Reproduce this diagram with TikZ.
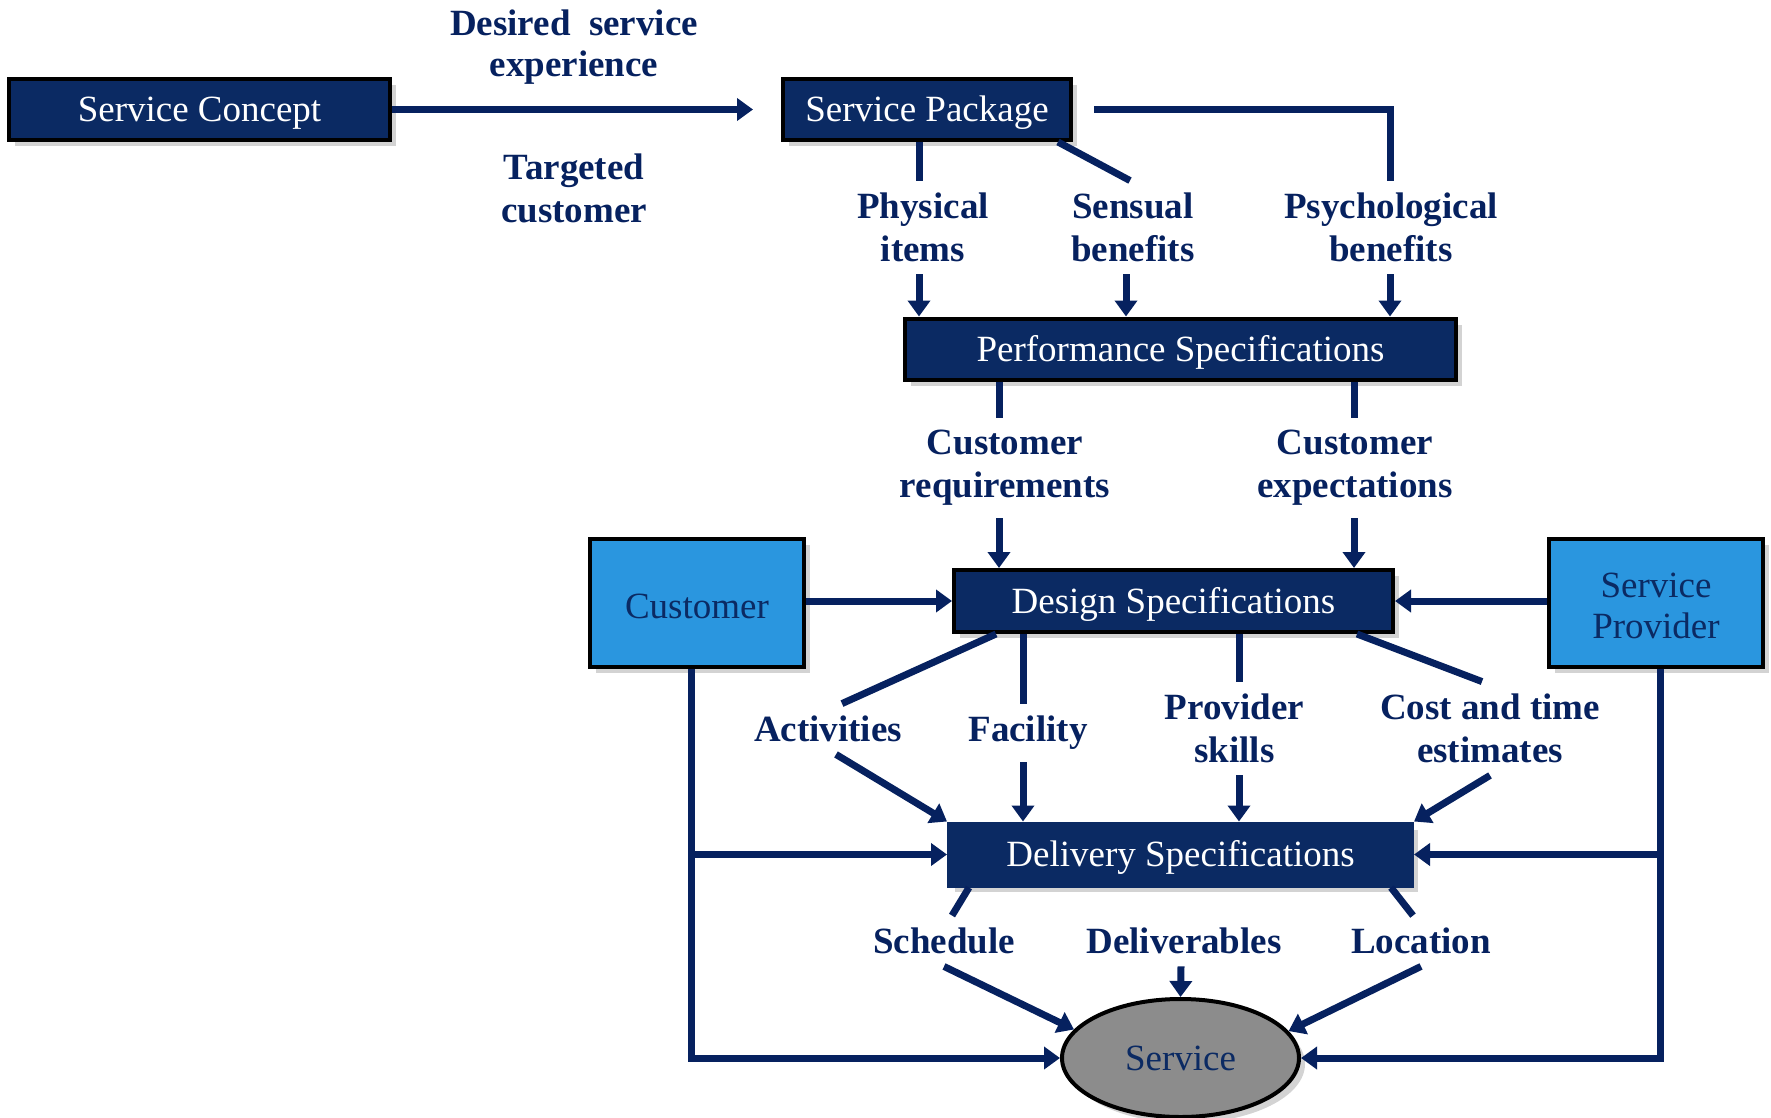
\documentclass[tikz,border=0pt]{standalone}
\usepackage{fontspec}
\setmainfont{Liberation Serif}
\usetikzlibrary{arrows.meta,shadows,shapes.geometric}
\definecolor{navy}{HTML}{0B2A63}
\definecolor{navyline}{HTML}{06215F}
\definecolor{lblue}{HTML}{2A96DF}
\definecolor{sgray}{HTML}{8C8C8C}
\begin{document}
\begin{tikzpicture}[x=0.5pt,y=-0.5pt,
  shad/.style={drop shadow={opacity=0.35, shadow xshift=3pt, shadow yshift=-3pt}},
  box/.style={shad, draw=black, line width=2pt, fill=navy, text=white, inner sep=0pt,
    text height=16pt, text depth=4pt,
    font=\fontsize{18.5}{21}\selectfont},
  sidebox/.style={shad, draw=black, line width=2pt, fill=lblue, text=navy, inner sep=0pt,
    minimum width=107pt, minimum height=64pt,
    font=\fontsize{18.5}{21}\selectfont},
  lbl/.style={text=navyline, font=\bfseries\fontsize{18.5}{21.5}\selectfont, align=center, inner sep=6pt},
  ln/.style={draw=navyline, line width=3.5pt},
  arr/.style={ln, -{Triangle[width=11pt,length=8pt]}}]
\useasboundingbox (0,0) rectangle (1771,1118);

% boxes
\node[box, minimum width=190.5pt, minimum height=30.5pt] (sc) at (199.5,109.5) {Service Concept};
\node[box, minimum width=144pt, minimum height=30.5pt] (sp) at (927,109.5) {Service Package};
\node[box, minimum width=275.5pt, minimum height=30.5pt] (perf) at (1180.5,349) {Performance Specifications};
\node[box, minimum width=219.5pt, minimum height=31pt] (ds) at (1173.5,601) {Design Specifications};
\node[box, draw=navy, minimum width=231.5pt, minimum height=31pt] (del) at (1180.5,854.5) {Delivery Specifications};
\node[sidebox, text height=15.6pt, text depth=0pt] (cust) at (697,603) {Customer};
\node[sidebox, align=center] (prov) at (1656,603) {\rule{0pt}{15pt}Service\\[-0.5pt]Provider};
\node[shad, ellipse, draw=black, line width=2pt, fill=sgray, text=navy, inner sep=0pt,
  minimum width=118.5pt, minimum height=59pt, font=\fontsize{18.5}{21}\selectfont] (svc) at (1180.5,1058) {Service};

% labels
\node[lbl] (des) at (574,47) {Desired\ \ service\\[-1pt]experience};
\node[lbl] (tgt) at (574,188) {Targeted\\customer};
\node[lbl] (phys) at (923,227.5) {Physical\\items};
\node[lbl] (sens) at (1133,227.5) {Sensual\\benefits};
\node[lbl] (psy) at (1391,227.5) {Psychological\\benefits};
\node[lbl] (creq) at (1005,468) {Customer\\requirements};
\node[lbl] (cexp) at (1355,468) {Customer\\expectations};
\node[lbl] (act) at (828,729) {Activities};
\node[lbl] (fac) at (1028,733) {Facility};
\node[lbl] (pskill) at (1234.5,728.5) {Provider\\skills};
\node[lbl] (cost) at (1490,728.5) {Cost and time\\estimates};
\node[lbl] (sched) at (944,941) {Schedule};
\node[lbl] (deliv) at (1184,941) {Deliverables};
\node[lbl] (loc) at (1421,941) {Location};

% top
\draw[arr, shorten >=14pt] (sc.east) -- (sp.west);
\draw[ln] ([xshift=-2pt]sp.south -| phys.north) -- ([xshift=-2pt]phys.north);
\draw[arr] ([xshift=-2pt]phys.south) -- ([xshift=-2pt]phys.south |- perf.north);
\draw[ln] ([xshift=-7.5pt]sp.south east) -- ([xshift=-1.5pt]sens.north);
\draw[arr] ([xshift=-3.5pt]sens.south) -- ([xshift=-3.5pt]sens.south |- perf.north);
\draw[ln] ([xshift=10.5pt]sp.east) -| ([xshift=-0.5pt]psy.north);
\draw[arr] ([xshift=-0.5pt]psy.south) -- ([xshift=-0.5pt]psy.south |- perf.north);

% performance -> design
\draw[ln] ([xshift=-3pt]perf.south -| creq.north) -- ([xshift=-3pt]creq.north);
\draw[arr] ([xshift=-3pt]creq.south) -- ([xshift=-3pt]creq.south |- ds.north);
\draw[ln] ([xshift=-0.5pt]perf.south -| cexp.north) -- ([xshift=-0.5pt]cexp.north);
\draw[arr] ([xshift=-0.5pt]cexp.south) -- ([xshift=-0.5pt]cexp.south |- ds.north);

% side inputs to design
\draw[arr] (cust.east |- ds.west) -- (ds.west);
\draw[arr] (prov.west |- ds.east) -- (ds.east);

% design -> delivery
\draw[ln] ([xshift=22pt]ds.south west) -- ([xshift=7pt]act.north);
\draw[arr] ([xshift=4pt]act.south) -- (del.north west);
\draw[ln] ([xshift=-2.5pt]ds.south -| fac.north) -- ([xshift=-2.5pt]fac.north);
\draw[arr] ([xshift=-2.5pt]fac.south) -- ([xshift=-2.5pt]fac.south |- del.north);
\draw[ln] ([xshift=2.25pt]ds.south -| pskill.north) -- ([xshift=2.25pt]pskill.north);
\draw[arr] ([xshift=2.25pt]pskill.south) -- ([xshift=2.25pt]pskill.south |- del.north);
\draw[ln] ([xshift=-19pt]ds.south east) -- ([xshift=-4pt]cost.north);
\draw[arr] (cost.south) -- (del.north east);

% customer and provider feeds
\coordinate (cl) at ([xshift=-3pt]cust.south);
\coordinate (pl) at ([xshift=2pt]prov.south);
\draw[arr] (cl |- del.west) -- (del.west);
\draw[arr] (cl) |- (svc.west);
\draw[arr] (pl |- del.east) -- (del.east);
\draw[arr] (pl) |- (svc.east);

% delivery -> service
\draw[ln] ([xshift=11pt]del.south west) -- ([xshift=4pt]sched.north);
\draw[arr] (sched.south) -- (svc.165);
\draw[arr] ([xshift=-1.5pt]deliv.south) -- (svc.north);
\draw[ln] ([xshift=-11.5pt]del.south east) -- ([xshift=-4pt]loc.north);
\draw[arr] (loc.south) -- (svc.14);
\end{tikzpicture}
\end{document}
